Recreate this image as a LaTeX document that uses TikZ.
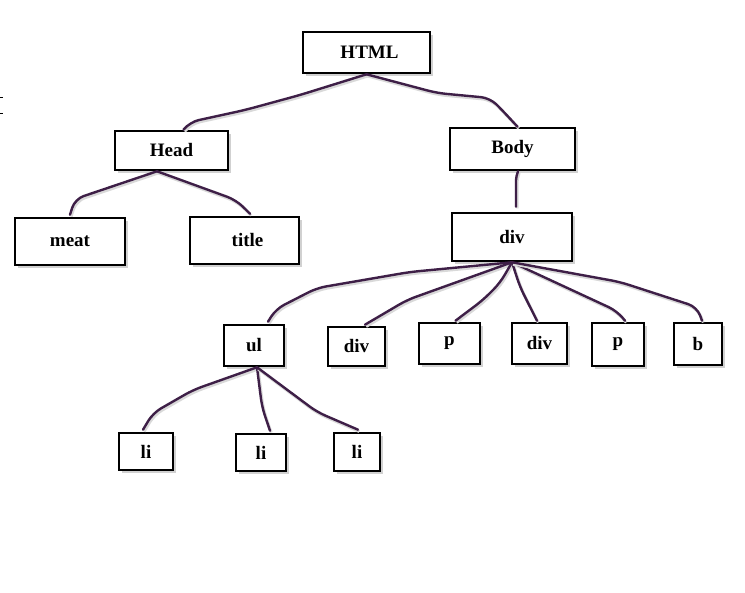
\documentclass[tikz,border=0pt]{standalone}
\usepackage{fontspec}
\setmainfont{Liberation Serif}
\usetikzlibrary{shadows}
\definecolor{conncol}{HTML}{3E1F47}
\tikzset{
  box/.style={draw=black, line width=2.6pt, fill=white, inner sep=0pt,
    font=\fontsize{19}{21}\selectfont\bfseries,
    drop shadow={shadow xshift=3pt, shadow yshift=-3pt, fill=gray!45, opacity=0.8}},
  conn/.style={draw=conncol, line width=2.4pt, rounded corners=9pt, line cap=round, line join=round,
    preaction={draw=gray!30, line width=2.8pt, transform canvas={shift={(1.2pt,-1.8pt)}}}},
}
\begin{document}
\begin{tikzpicture}[x=1pt,y=-1pt]
\useasboundingbox (0,0) rectangle (745,593);
\fill[white] (0,0) rectangle (745,593);
% tiny marks at left edge
\draw[black, line width=0.8pt] (0,97) -- (3,97);
\draw[black, line width=0.8pt] (0,113) -- (3,113);

\node[box, minimum width=127, minimum height=41] (html) at (366.5,52.5) {\hspace*{6pt}HTML};
\node[box, minimum width=113, minimum height=39] (head) at (171.5,150.5) {Head};
\node[box, minimum width=125, minimum height=42] (body) at (512.5,149) {Body};
\node[box, minimum width=110, minimum height=47] (meat) at (70,241.5) {\raisebox{-1pt}{meat}};
\node[box, minimum width=109, minimum height=47] (title) at (244.5,240.5) {\hspace*{6pt}title};
\node[box, minimum width=120, minimum height=48] (div) at (512,237) {div};
\node[box, minimum width=60, minimum height=41] (ul) at (254,345.5) {ul};
\node[box, minimum width=57, minimum height=39] (div2) at (356.5,346.5) {\raisebox{-2pt}{div}};
\node[box, minimum width=61, minimum height=41] (p) at (449.5,343.5) {p};
\node[box, minimum width=55, minimum height=41] (div3) at (539.5,343.5) {div};
\node[box, minimum width=52, minimum height=43] (p2) at (618,344.5) {p};
\node[box, minimum width=48, minimum height=42] (b) at (698,344) {b};
\node[box, minimum width=54, minimum height=37] (li1) at (146,451.5) {li};
\node[box, minimum width=50, minimum height=37] (li2) at (261,452.5) {li};
\node[box, minimum width=46, minimum height=38] (li3) at (357,452) {\raisebox{-2pt}{li}};

% connectors
\draw[conn] (html.south) -- (300,95) -- (245,110) -- (190,122) -- ([xshift=12pt]head.north);
\draw[conn] (html.south) -- (437,93) -- (490,98) -- (502,110) -- ([xshift=5pt]body.north);
\draw[conn] ([xshift=-14.5pt]head.south) -- (75,199) -- ([yshift=2pt]meat.north);
\draw[conn] ([xshift=-14.5pt]head.south) -- (236,200) -- ([xshift=5.5pt,yshift=2pt]title.north);
\draw[conn, rounded corners=2pt] ([xshift=5.5pt]body.south) -- (516,178) -- ([xshift=4pt,yshift=5pt]div.north);

\draw[conn] (div.south) -- (410,272) -- (317,288) -- (276,309) -- ([xshift=14pt,yshift=2pt]ul.north);
\draw[conn] (div.south) -- (407,300) -- ([xshift=8.5pt,yshift=1pt]div2.north);
\draw[conn] (div.south) -- (500,283) -- (483,300) -- ([xshift=6pt,yshift=1pt]p.north);
\draw[conn] (div.south) -- (520,287) -- ([xshift=-2.5pt,yshift=1pt]div3.north);
\draw[conn] (div.south) -- (617,311) -- ([xshift=7pt,yshift=1pt]p2.north);
\draw[conn] (div.south) -- (620,282) -- (697,307) -- ([xshift=4pt,yshift=1pt]b.north);

\draw[conn] ([xshift=3pt]ul.south) -- (193,390) -- (153,413) -- ([xshift=-3pt,yshift=2pt]li1.north);
\draw[conn] ([xshift=3pt]ul.south) -- (262,407) -- ([xshift=9pt,yshift=2pt]li2.north);
\draw[conn] ([xshift=3pt]ul.south) -- (317,412) -- ([xshift=1pt,yshift=2pt]li3.north);
\end{tikzpicture}
\end{document}
